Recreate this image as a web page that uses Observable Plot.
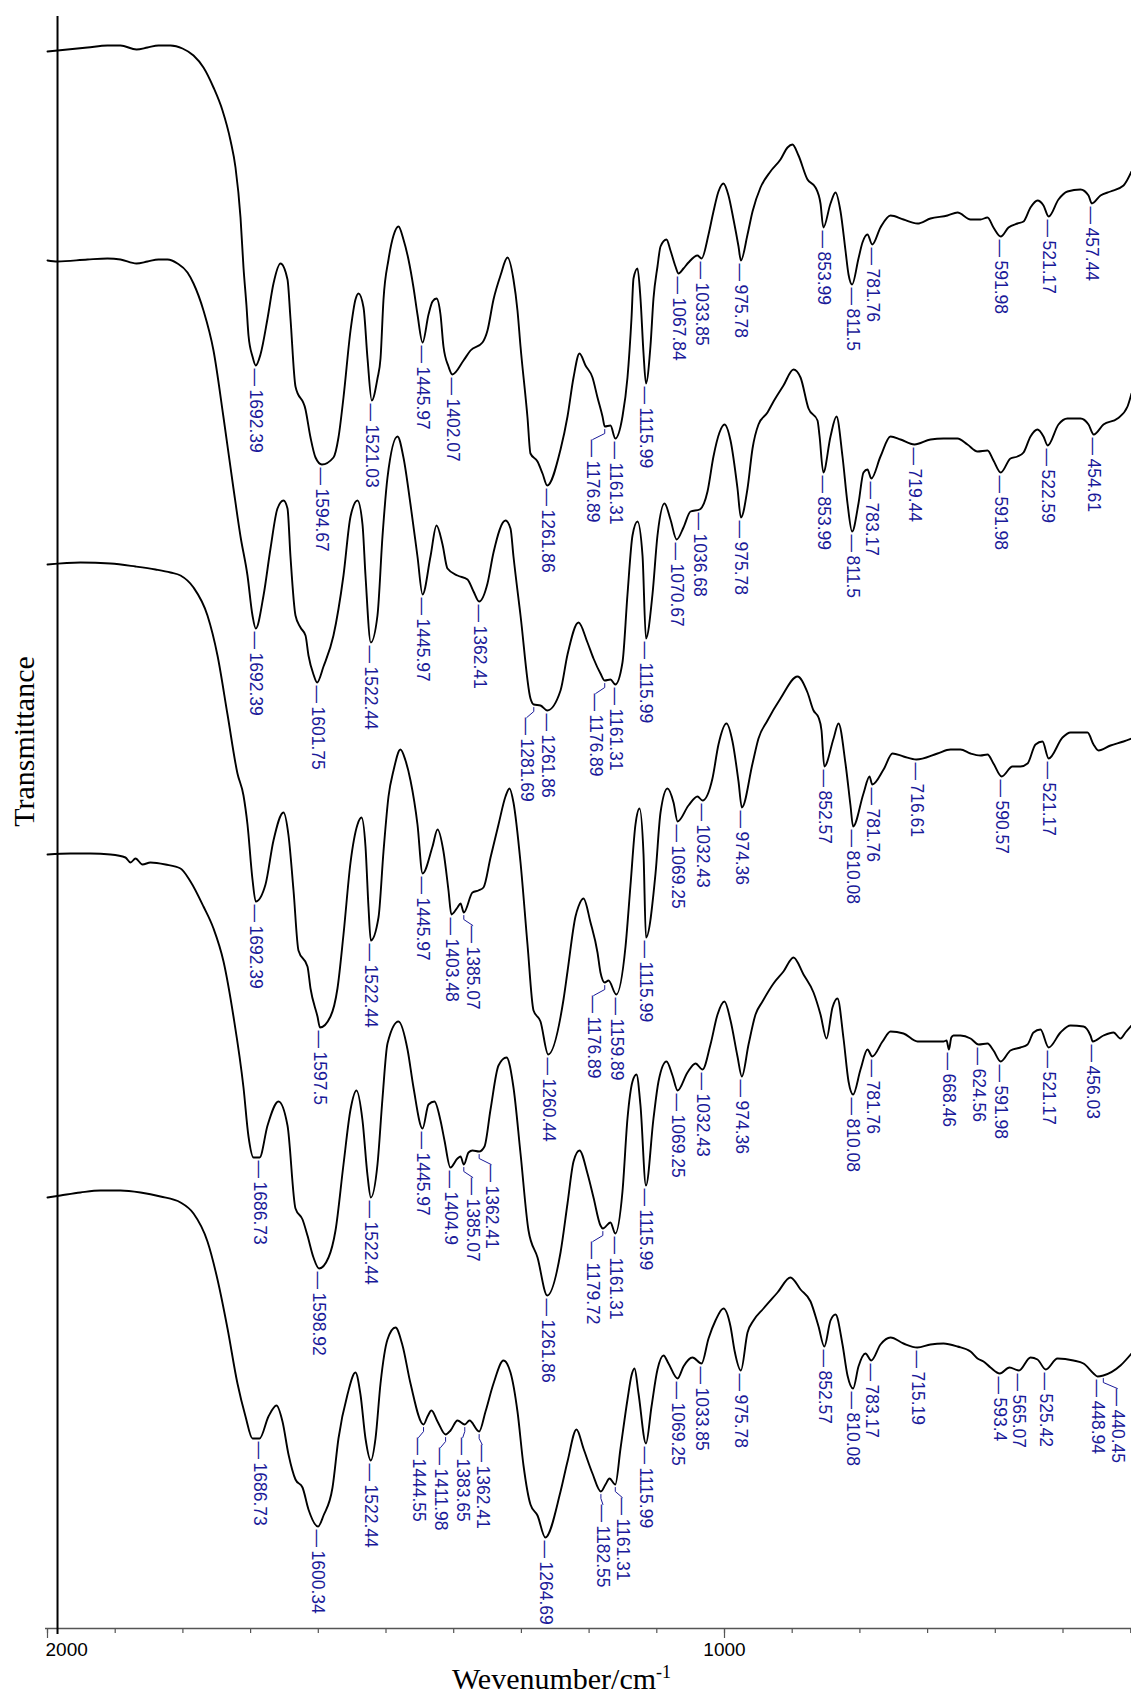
<!DOCTYPE html>
<html><head><meta charset="utf-8">
<script src="https://cdn.jsdelivr.net/npm/d3@7"></script>
<script src="https://cdn.jsdelivr.net/npm/@observablehq/plot@0.6"></script>
<style>body{margin:0;background:#fff}</style>
</head><body><div id="chart"></div>
<script>
// Wavenumber (cm-1) vs transmittance (arbitrary, offset units) for five stacked spectra
const spectrum1 = [[2000,1577],[1985.2,1578],[1940.9,1581],[1911.4,1583],[1892.2,1583],[1868.5,1579],[1852.3,1581],[1836.0,1583],[1818.3,1583],[1800.6,1580],[1784.3,1573],[1769.6,1561],[1754.8,1541],[1741.5,1518],[1729.7,1488],[1722.3,1461],[1714.9,1411],[1710.5,1361],[1706.1,1323],[1703.1,1293],[1697.2,1272],[1692.39,1263],[1685.4,1274],[1675.0,1310],[1666.2,1345],[1655.8,1365],[1645.5,1349],[1641.1,1310],[1633.7,1242],[1618.9,1219],[1611.5,1191],[1604.1,1171],[1594.67,1164],[1577.6,1171],[1570.2,1191],[1562.8,1231],[1552.4,1298],[1545.1,1329],[1540.6,1335],[1533.2,1321],[1527.3,1270],[1521.03,1228],[1512.6,1250],[1508.1,1270],[1503.7,1329],[1496.3,1369],[1488.9,1393],[1481.5,1402],[1474.2,1389],[1466.8,1369],[1459.4,1341],[1453.5,1314],[1445.97,1286],[1437.2,1314],[1431.3,1327],[1425.4,1330],[1419.5,1314],[1415.1,1282],[1407.7,1262],[1402.07,1254],[1385.5,1268],[1375.2,1278],[1357.5,1286],[1350.1,1298],[1341.2,1329],[1330.9,1353],[1320.5,1371],[1311.7,1349],[1305.8,1318],[1301.3,1282],[1291.0,1211],[1286.6,1175],[1276.2,1167],[1268.8,1155],[1261.86,1143],[1242.2,1179],[1231.9,1212],[1223.0,1251],[1214.2,1275],[1205.3,1263],[1195.0,1251],[1187.6,1231],[1180.2,1212],[1176.89,1202],[1168.4,1203],[1161.31,1190],[1150.7,1212],[1143.3,1251],[1137.4,1310],[1134.4,1350],[1128.5,1360],[1124.1,1330],[1119.6,1275],[1115.99,1245],[1109.3,1283],[1104.9,1330],[1099.0,1362],[1094.5,1382],[1085.7,1389],[1079.8,1378],[1072.4,1362],[1067.84,1355],[1060.6,1360],[1053.2,1366],[1039.9,1373],[1033.85,1370],[1023.6,1394],[1016.3,1417],[1008.9,1437],[1001.5,1445],[994.1,1433],[986.7,1409],[979.3,1382],[975.78,1368],[966.0,1394],[958.6,1417],[946.8,1441],[932.1,1457],[917.3,1469],[906.9,1481],[899.6,1484],[890.7,1473],[877.4,1449],[865.6,1441],[858.2,1425],[853.99,1401],[843.4,1425],[836.0,1436],[828.6,1417],[821.3,1378],[816.8,1354],[811.5,1344],[802.1,1370],[796.2,1386],[788.8,1394],[781.76,1384],[769.6,1401],[754.8,1413],[735.6,1409],[714.9,1405],[695.7,1410],[670.6,1413],[655.8,1416],[636.6,1409],[621.9,1409],[611.5,1411],[602.7,1401],[591.98,1392],[580.5,1401],[567.2,1405],[558.3,1407],[548.0,1421],[537.7,1428],[528.8,1423],[521.17,1412],[506.7,1429],[493.4,1437],[474.2,1439],[462.3,1433],[457.44,1425],[444.6,1433],[429.8,1437],[410.6,1443],[398.8,1457]];

const spectrum2 = [[2000,1368],[1985.2,1367],[1940.9,1369],[1911.4,1370],[1892.2,1369],[1868.5,1365],[1852.3,1367],[1836.0,1369],[1822.7,1369],[1808.0,1365],[1793.2,1356],[1784.3,1345],[1769.6,1318],[1754.8,1278],[1740.0,1211],[1725.3,1140],[1714.9,1092],[1704.6,1053],[1697.2,1013],[1692.39,1000],[1680.9,1033],[1670.6,1080],[1660.3,1120],[1651.4,1128],[1645.5,1120],[1641.1,1072],[1633.7,1013],[1626.3,1001],[1618.9,993],[1614.5,973],[1607.1,954],[1601.75,946],[1592.3,962],[1577.6,993],[1562.8,1053],[1552.4,1112],[1542.1,1128],[1534.7,1104],[1530.3,1053],[1522.44,986],[1512.6,1013],[1505.2,1092],[1497.8,1151],[1483.0,1192],[1474.2,1171],[1463.8,1124],[1453.5,1072],[1445.97,1034],[1434.3,1072],[1425.4,1103],[1416.5,1084],[1409.2,1060],[1394.4,1053],[1379.6,1049],[1370.7,1037],[1362.41,1027],[1350.1,1045],[1341.2,1076],[1323.5,1108],[1316.1,1100],[1311.7,1072],[1301.3,1013],[1286.6,930],[1281.69,924],[1271.8,923],[1261.86,918],[1242.2,938],[1231.9,974],[1215.7,1006],[1202.4,986],[1193.5,970],[1183.2,955],[1176.89,948],[1168.4,949],[1161.31,944],[1150.7,966],[1143.3,1034],[1135.9,1093],[1128.5,1107],[1121.1,1073],[1115.99,990],[1106.4,1034],[1099.0,1093],[1088.6,1125],[1079.8,1109],[1070.67,1089],[1060.6,1101],[1050.2,1117],[1036.68,1119],[1025.1,1137],[1016.3,1172],[1007.4,1196],[1000.0,1204],[991.1,1188],[980.8,1140],[975.78,1111],[966.0,1140],[958.6,1180],[949.8,1204],[936.5,1216],[927.6,1227],[912.9,1243],[898.1,1259],[887.7,1251],[875.9,1220],[862.6,1208],[859.7,1193],[853.99,1156],[843.4,1192],[834.6,1212],[825.7,1172],[818.3,1125],[811.5,1097],[802.1,1125],[794.7,1156],[788.8,1159],[783.17,1150],[769.6,1172],[754.8,1192],[740.0,1189],[719.44,1184],[695.7,1189],[676.5,1190],[655.8,1190],[641.1,1184],[626.3,1177],[611.5,1178],[602.7,1168],[591.98,1156],[577.6,1170],[567.2,1172],[558.3,1176],[548.0,1192],[537.7,1199],[528.8,1192],[522.59,1183],[506.7,1204],[493.4,1210],[474.2,1210],[462.3,1204],[454.61,1194],[440.2,1204],[419.5,1210],[404.7,1222],[398.8,1235]];

const spectrum3 = [[2000,1064],[1951.3,1066],[1906.9,1065],[1870.0,1062],[1840.5,1059],[1818.3,1056],[1803.5,1053],[1784.3,1041],[1763.7,1013],[1748.9,973],[1734.1,914],[1719.4,855],[1710.5,833],[1704.6,804],[1697.2,749],[1692.39,727],[1678.0,744],[1666.2,788],[1651.4,816],[1644.0,793],[1636.6,738],[1629.3,678],[1616.0,662],[1611.5,640],[1601.2,612],[1597.5,601],[1582.0,612],[1571.7,640],[1562.8,694],[1552.4,766],[1542.1,804],[1536.2,811],[1530.3,782],[1525.9,722],[1522.44,688],[1511.1,711],[1503.7,777],[1496.3,832],[1488.9,858],[1478.6,879],[1471.2,868],[1463.8,848],[1453.5,804],[1445.97,755],[1431.3,782],[1423.9,799],[1415.1,777],[1407.7,738],[1403.48,714],[1394.4,721],[1389.9,725],[1385.07,716],[1372.2,736],[1363.4,738],[1356.0,741],[1345.6,771],[1333.8,804],[1323.5,832],[1317.6,840],[1311.7,826],[1301.3,766],[1291.0,684],[1282.1,618],[1271.8,607],[1260.44,574],[1237.8,629],[1231.9,657],[1220.1,712],[1215.7,722],[1208.3,730],[1197.9,706],[1187.6,676],[1183.2,656],[1176.89,646],[1171.3,648],[1159.89,634],[1146.2,682],[1138.9,743],[1131.5,804],[1125.5,820],[1119.6,774],[1115.99,691],[1101.9,755],[1094.5,816],[1084.2,840],[1075.3,826],[1069.25,807],[1053.2,823],[1039.9,832],[1032.43,828],[1017.8,850],[1008.9,884],[997.0,905],[988.2,887],[979.3,847],[974.36,821],[958.6,865],[949.8,890],[936.5,908],[917.3,930],[892.2,952],[877.4,936],[868.5,918],[861.1,911],[856.7,898],[852.57,862],[838.9,890],[831.6,905],[821.3,865],[813.9,823],[810.08,802],[794.7,835],[785.8,852],[781.76,844],[765.1,859],[751.8,875],[735.6,872],[716.61,869],[685.4,875],[666.2,879],[651.5,879],[636.6,875],[621.9,873],[611.5,874],[602.7,865],[590.57,852],[574.6,862],[562.8,862],[552.4,865],[540.6,884],[530.3,887],[521.17,870],[500.7,891],[488.9,896],[463.8,896],[454.9,884],[447.6,878],[429.8,883],[410.6,887],[398.8,890]];

const spectrum4 = [[2000,774],[1966.0,775],[1936.5,775],[1906.9,774],[1884.8,771],[1877.4,766],[1870.0,770],[1859.7,764],[1847.9,766],[1825.7,764],[1803.5,760],[1788.8,747],[1769.6,722],[1754.8,700],[1740.0,667],[1725.3,612],[1710.5,541],[1703.1,492],[1695.7,471],[1686.73,471],[1675.0,503],[1658.8,527],[1645.5,503],[1633.7,420],[1623.3,409],[1616.0,393],[1607.1,371],[1598.92,360],[1584.9,371],[1574.6,398],[1562.8,464],[1552.4,519],[1543.6,538],[1534.7,508],[1527.3,453],[1522.44,431],[1512.6,464],[1505.2,530],[1497.8,585],[1481.5,607],[1468.2,579],[1459.4,541],[1445.97,500],[1437.2,524],[1428.4,527],[1419.5,508],[1413.6,488],[1404.9,461],[1394.4,470],[1389.9,472],[1385.07,464],[1378.1,476],[1372.2,478],[1362.41,477],[1354.5,482],[1345.6,519],[1333.8,563],[1322.0,571],[1311.7,541],[1301.3,475],[1289.5,398],[1276.2,371],[1261.86,333],[1242.2,376],[1231.9,425],[1223.0,467],[1214.2,478],[1202.4,455],[1193.5,431],[1183.2,403],[1179.72,400],[1168.4,406],[1161.31,395],[1150.7,437],[1143.3,510],[1135.9,547],[1130.0,554],[1124.1,523],[1115.99,443],[1104.9,510],[1097.5,547],[1085.7,567],[1076.8,553],[1069.25,538],[1054.7,556],[1042.8,565],[1032.43,559],[1020.7,584],[1010.3,614],[1000.0,627],[991.1,608],[980.8,572],[974.36,552],[964.5,584],[954.2,614],[943.9,627],[927.6,645],[912.9,657],[898.1,671],[883.3,654],[868.5,636],[858.2,614],[849.3,590],[840.5,621],[833.1,630],[824.2,590],[816.8,547],[810.08,534],[799.1,559],[788.8,579],[781.76,572],[766.6,587],[754.8,597],[735.6,595],[714.9,587],[695.7,587],[676.5,587],[672.0,588],[668.46,579],[665.0,591],[661.8,593],[651.5,593],[636.6,590],[624.56,584],[611.5,585],[602.7,578],[591.98,567],[577.6,578],[562.8,581],[552.4,584],[543.6,596],[533.3,599],[521.17,581],[503.7,596],[488.9,603],[469.7,602],[459.4,593],[456.03,587],[440.2,593],[425.4,596],[415.1,590],[407.7,596],[398.8,603]];

const spectrum5 = [[2000,431],[1980.8,433],[1951.3,436],[1921.7,438],[1892.2,438],[1862.6,436],[1833.1,432],[1803.5,426],[1784.3,415],[1763.7,387],[1748.9,349],[1734.1,300],[1719.4,245],[1707.5,212],[1697.2,190],[1686.73,190],[1673.6,212],[1661.7,223],[1652.9,207],[1644.0,174],[1633.7,149],[1623.3,141],[1614.5,119],[1600.34,102],[1592.3,113],[1579.0,141],[1570.2,190],[1556.9,234],[1545.1,256],[1537.7,234],[1530.3,190],[1522.44,168],[1515.5,190],[1508.1,245],[1497.8,289],[1486.0,301],[1475.6,283],[1463.8,245],[1444.55,204],[1438.7,212],[1432.8,218],[1423.9,207],[1411.98,194],[1404.7,198],[1394.4,208],[1383.65,204],[1376.7,208],[1362.41,197],[1353.0,217],[1341.2,245],[1326.4,268],[1316.1,256],[1305.8,217],[1296.9,163],[1286.6,124],[1276.2,113],[1264.69,91],[1242.2,137],[1231.9,167],[1218.6,199],[1208.3,180],[1195.0,155],[1182.55,137],[1175.8,144],[1169.9,150],[1161.31,144],[1153.6,180],[1143.3,229],[1137.4,253],[1132.9,260],[1127.0,235],[1115.99,185],[1107.8,222],[1099.0,259],[1090.1,273],[1082.7,265],[1069.25,250],[1060.6,262],[1047.3,271],[1033.85,265],[1023.6,290],[1013.3,308],[1001.5,320],[991.1,302],[985.2,278],[975.78,258],[966.0,296],[957.2,308],[942.4,320],[921.7,336],[902.5,351],[887.7,339],[872.9,327],[861.1,302],[852.57,282],[843.4,308],[836.0,314],[825.7,284],[818.3,253],[810.08,240],[802.1,262],[791.8,275],[783.17,268],[769.6,284],[754.8,291],[735.6,285],[715.19,281],[695.7,284],[676.5,285],[655.8,282],[636.6,277],[626.3,270],[617.4,267],[607.1,261],[593.4,255],[579.0,261],[565.07,258],[548.0,271],[537.7,269],[525.42,259],[508.1,270],[484.5,268],[469.7,265],[454.9,255],[448.94,252],[440.45,253],[415.1,263],[398.8,275]];

// Peak labels (as printed) for each spectrum
const peaks1 = ["1692.39","1594.67","1521.03","1445.97","1402.07","1261.86","1176.89","1161.31","1115.99","1067.84","1033.85","975.78","853.99","811.5","781.76","591.98","521.17","457.44"];
const peaks2 = ["1692.39","1601.75","1522.44","1445.97","1362.41","1281.69","1261.86","1176.89","1161.31","1115.99","1070.67","1036.68","975.78","853.99","811.5","783.17","719.44","591.98","522.59","454.61"];
const peaks3 = ["1692.39","1597.5","1522.44","1445.97","1403.48","1385.07","1260.44","1176.89","1159.89","1115.99","1069.25","1032.43","974.36","852.57","810.08","781.76","716.61","590.57","521.17"];
const peaks4 = ["1686.73","1598.92","1522.44","1445.97","1404.9","1385.07","1362.41","1261.86","1179.72","1161.31","1115.99","1069.25","1032.43","974.36","810.08","781.76","668.46","624.56","591.98","521.17","456.03"];
const peaks5 = ["1686.73","1600.34","1522.44","1444.55","1411.98","1383.65","1362.41","1264.69","1182.55","1161.31","1115.99","1069.25","1033.85","975.78","852.57","810.08","783.17","715.19","593.4","565.07","525.42","448.94","440.45"];

// Axis ticks
const xTicks = d3.range(400, 2001, 100);
const xTickLabels = [2000, 1000];
const yAxisAt = 1985.2;

// Layout: label shifts (px, + = right) for crowded labels, drawn with a leader
const labelShift = {"1:1176.89":-12,"2:1281.69":-7,"2:1176.89":-9,"3:1385.07":9,"3:1176.89":-11,
  "4:1385.07":9,"4:1362.41":12,"4:1179.72":-10,"5:1444.55":-5,"5:1411.98":-5,"5:1383.65":-2,
  "5:1362.41":3,"5:1182.55":2,"5:1161.31":7,"5:440.45":14};

const W = 1131, H = 1695, mL = 47, mT = 16, mB = 67;
const pxPerCm = 0.677;
const xDomain = [2000, 2000 - (W - mL) / pxPerCm];
const cmPerPx = 1 / pxPerCm;
const blue = "#1a1a99";

const spectra = [spectrum1, spectrum2, spectrum3, spectrum4, spectrum5];
const peaks = [peaks1, peaks2, peaks3, peaks4, peaks5];

const linePts = spectra.flatMap((pts, i) => pts.map(([x, y]) => ({x, y, s: i})));

function valueAt(pts, wn) {
  for (let i = 0; i < pts.length - 1; i++) {
    const [x0, y0] = pts[i], [x1, y1] = pts[i + 1];
    if (wn <= x0 && wn >= x1) return x0 === x1 ? Math.min(y0, y1) : y0 + (y1 - y0) * (wn - x0) / (x1 - x0);
  }
  return pts[pts.length - 1][1];
}

const labels = [], leaders = [];
peaks.forEach((list, i) => {
  list.forEach(s => {
    const wn = +s;
    const v = valueAt(spectra[i], wn);
    const sh = labelShift[`${i + 1}:${s}`];
    const txt = "\u2014\u2009" + s;
    if (sh !== undefined) {
      const wx = wn - sh * cmPerPx;
      const id = `${i}-${s}`;
      leaders.push({id, x: wn, y: v - 3}, {id, x: wn, y: v - 7}, {id, x: wx, y: v - 13});
      labels.push({x: wx, y: v - 13, text: txt});
    } else {
      labels.push({x: wn, y: v - 3, text: txt});
    }
  });
});

const sans = "Liberation Sans, Arial, Helvetica, sans-serif";
const serif = "Liberation Serif, Times New Roman, Times, serif";

const chart = Plot.plot({
  width: W, height: H,
  marginLeft: mL, marginRight: 0, marginTop: mT, marginBottom: mB,
  x: {domain: xDomain},
  y: {domain: [0, 1612], axis: null},
  style: {background: "white", overflow: "visible"},
  marks: [
    Plot.ruleY([0], {stroke: "#555", strokeWidth: 1.5, insetLeft: -2}),
    Plot.axisX(xTicks, {tickSize: 5, tickFormat: () => "", label: null, stroke: "#555", strokeWidth: 1.2}),
    Plot.axisX(xTickLabels, {tickSize: 10, tickFormat: () => "", label: null, stroke: "#555", strokeWidth: 1.2}),
    Plot.text(xTickLabels.filter(d => d === xDomain[0]), {x: d => d, text: d => String(d), frameAnchor: "bottom", lineAnchor: "middle", dy: 21, dx: -2, textAnchor: "start", fontSize: 19, fontFamily: sans, fill: "black"}),
    Plot.text(xTickLabels.filter(d => d !== xDomain[0]), {x: d => d, text: d => String(d), frameAnchor: "bottom", lineAnchor: "middle", textAnchor: "middle", dy: 21, fontSize: 19, fontFamily: sans, fill: "black"}),
    Plot.ruleX([yAxisAt], {stroke: "black", strokeWidth: 2, insetBottom: -6}),
    Plot.line(linePts, {x: "x", y: "y", z: "s", stroke: "black", strokeWidth: 1.9, curve: "monotone-x"}),
    Plot.line(leaders, {x: "x", y: "y", z: "id", stroke: blue, strokeWidth: 1}),
    Plot.text(labels, {x: "x", y: "y", text: "text", rotate: 90, textAnchor: "start", lineAnchor: "middle", fill: blue, fontSize: 17.5, fontFamily: sans}),
    Plot.text(["Transmittance"], {text: d => d, frameAnchor: "left", textAnchor: "middle", lineAnchor: "middle", dx: -23, dy: -81, rotate: -90, fontSize: 30, fontFamily: serif, fill: "black"}),
    Plot.text(["Wevenumber/cm-1"], {text: d => d, frameAnchor: "bottom", textAnchor: "middle", lineAnchor: "middle", dx: -28, dy: 51, fontSize: 30, fontFamily: serif, fill: "black"})
  ]
});

d3.select(chart).selectAll("text").filter(function () { return this.textContent === "Wevenumber/cm-1"; })
  .each(function () {
    const t = d3.select(this);
    t.text("Wevenumber/cm");
    t.append("tspan").attr("font-size", 18).attr("dy", "-0.6em").text("-1");
  });

document.getElementById("chart").appendChild(chart);
</script>
</body></html>
